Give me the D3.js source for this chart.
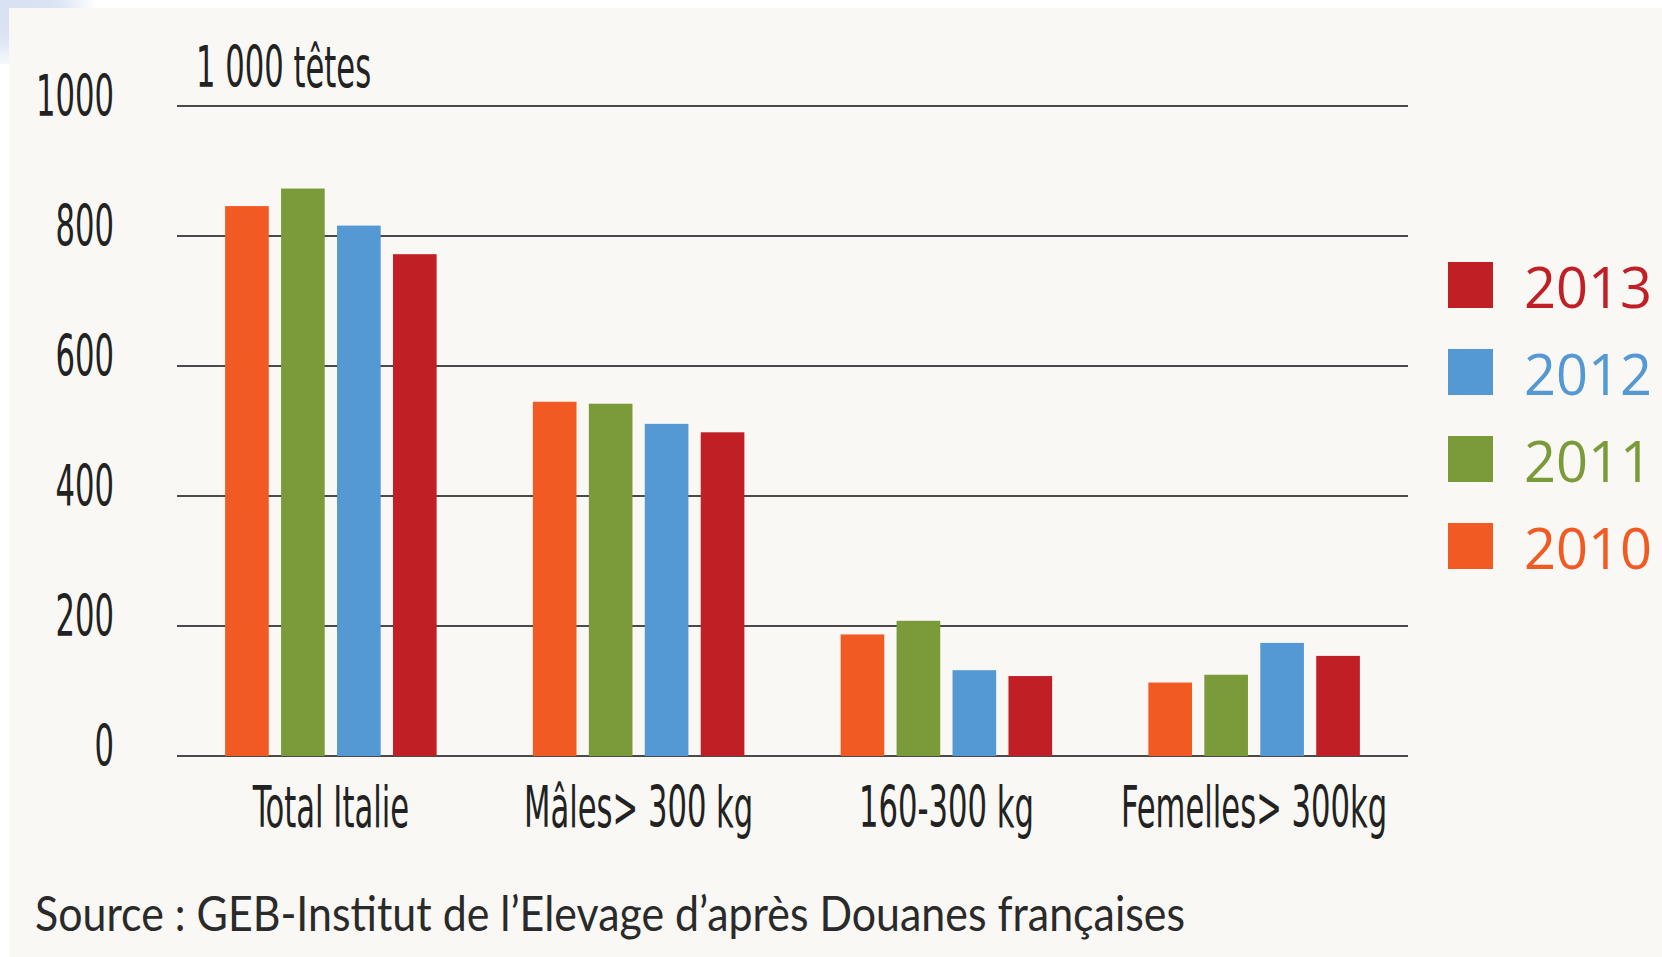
<!DOCTYPE html>
<html>
<head>
  <meta charset="utf-8">
  <style>
    body { margin: 0; background: #ffffff; }
    svg { display: block; }
  </style>
</head>
<body>
  <div id="chart"></div>
  <script src="https://d3js.org/d3.v7.min.js"></script>
  <script>
    // data (1 000 head)
    var categories = ["Total Italie", "Mâles> 300 kg", "160-300 kg", "Femelles> 300kg"]
    var years = ["2010", "2011", "2012", "2013"]
    var v2010 = [846, 545, 187, 113]
    var v2011 = [873, 542, 208, 125]
    var v2012 = [816, 511, 132, 174]
    var v2013 = [772, 498, 123, 154]
    var yTicks = [0, 200, 400, 600, 800, 1000]
    var legendOrder = ["2013", "2012", "2011", "2010"]
    var unitLabel = "1 000 têtes"
    var sourceText = "Source : GEB-Institut de l\u2019Elevage d\u2019après Douanes françaises"

    var series = {"2010": v2010, "2011": v2011, "2012": v2012, "2013": v2013}
    var rows = categories.map((c, i) => {
      var r = {cat: c}
      years.forEach(y => r[y] = series[y][i])
      return r
    })

    var W = 1662, H = 957
    var margin = {top: 106, left: 177, right: 254, bottom: 201}
    var width = W - margin.left - margin.right
    var height = H - margin.top - margin.bottom

    var color = d3.scaleOrdinal()
        .domain(years)
        .range(["#f15a22", "#7b9b3a", "#5499d3", "#c11f26"])

    var condensed = "'Liberation Sans Narrow', 'DejaVu Sans Condensed', 'Liberation Sans', sans-serif"

    var svg = d3.select("#chart").append("svg")
        .attr("width", W)
        .attr("height", H)

    // faint blue smudge in the corner, then the panel
    var defs = svg.append("defs")
    defs.append("filter").attr("id", "blur")
        .append("feGaussianBlur").attr("stdDeviation", 14)
    svg.append("ellipse")
        .attr("cx", 10).attr("cy", 10).attr("rx", 70).attr("ry", 45)
        .attr("fill", "#c9d6ee").attr("opacity", 0.7)
        .attr("filter", "url(#blur)")
    svg.append("rect")
        .attr("x", 9).attr("y", 8)
        .attr("width", W - 9).attr("height", H - 8)
        .attr("fill", "#f9f8f4")

    var g = svg.append("g")
        .attr("transform", "translate(" + margin.left + "," + margin.top + ")")

    var x0 = d3.scaleBand()
        .domain(categories)
        .range([0, width])
        .padding(0)

    var x1 = d3.scaleBand()
        .domain(years)
        .range([0, x0.bandwidth()])
        .paddingInner(0.22)
        .paddingOuter(0.86)

    var y = d3.scaleLinear()
        .domain([0, 1000])
        .range([height, 0])

    // gridlines
    g.append("g")
        .selectAll("line")
        .data(yTicks)
        .join("line")
        .attr("x1", 0)
        .attr("x2", width)
        .attr("y1", d => y(d))
        .attr("y2", d => y(d))
        .attr("stroke", "#4a4a4a")
        .attr("stroke-width", 2)

    // bars
    g.append("g")
        .selectAll("g")
        .data(rows)
        .join("g")
        .attr("transform", d => "translate(" + x0(d.cat) + ",0)")
        .selectAll("rect")
        .data(d => years.map(k => ({key: k, value: d[k]})))
        .join("rect")
        .attr("x", d => x1(d.key))
        .attr("width", x1.bandwidth())
        .attr("y", d => y(d.value))
        .attr("height", d => y(0) - y(d.value))
        .attr("fill", d => color(d.key))

    // condensed texts: y tick labels, unit, categories
    // each one keeps its anchor point in px/py and is squeezed horizontally afterwards
    var condTexts = []

    g.append("g")
        .selectAll("text")
        .data(yTicks)
        .join("text")
        .attr("text-anchor", "end")
        .text(d => d)
        .each(function (d) { this._px = -63; this._py = y(d) + 10; condTexts.push(this) })

    var refText = g.append("text")
        .text(unitLabel)
        .each(function () { this._px = 19; this._py = -19; condTexts.push(this) })

    g.append("g")
        .selectAll("text")
        .data(categories)
        .join("text")
        .attr("text-anchor", "middle")
        .text(d => d)
        .each(function (d) {
          this._px = x0(d) + x0.bandwidth() / 2
          this._py = height + 71
          condTexts.push(this)
        })

    condTexts.forEach(t => {
      d3.select(t)
        .attr("font-family", condensed)
        .attr("font-size", 57)
        .attr("fill", "#222")
    })
    // squeeze so that "1000" is about 78px wide
    var thousand = condTexts[yTicks.length - 1]
    var k = 78 / thousand.getComputedTextLength()
    condTexts.forEach(t => {
      t.setAttribute("transform", "translate(" + t._px + "," + t._py + ") scale(" + k + ",1)")
    })

    // legend
    var legend = svg.append("g")
        .attr("transform", "translate(1448,262)")
    var li = legend.selectAll("g")
        .data(legendOrder)
        .join("g")
        .attr("transform", (d, i) => "translate(0," + (i * 87) + ")")
    li.append("rect")
        .attr("width", 45)
        .attr("height", 46)
        .attr("fill", d => color(d))
    li.append("text")
        .attr("x", 76)
        .attr("y", 46)
        .attr("font-family", "'Open Sans', 'Noto Sans', sans-serif")
        .attr("font-size", 56)
        .attr("fill", d => color(d))
        .text(d => d)

    // source
    svg.append("text")
        .attr("x", 35)
        .attr("y", 931)
        .attr("font-family", "Lato, 'Noto Sans', sans-serif")
        .attr("font-size", 48)
        .attr("fill", "#2a2a2a")
        .attr("textLength", 1150)
        .attr("lengthAdjust", "spacingAndGlyphs")
        .text(sourceText)
  </script>
</body>
</html>
